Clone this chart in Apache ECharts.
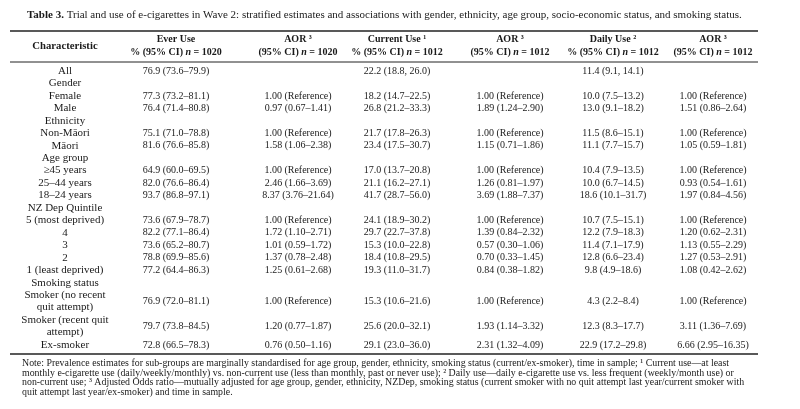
<!DOCTYPE html>
<html>
<head>
<meta charset="utf-8">
<script src="https://cdn.jsdelivr.net/npm/echarts@6/dist/echarts.min.js"></script>
<style>
    html, body { margin: 0; padding: 0; background: #fff; }
    #main { width: 800px; height: 409px; }
</style>
</head>
<body>
<div id="main"></div>
<script>
    // table text
    var titleBold = 'Table 3.';
    var titleText = 'Trial and use of e-cigarettes in Wave 2: stratified estimates and associations with gender, ethnicity, age group, socio-economic status, and smoking status.';

    var colTitles = ['Characteristic', 'Ever Use', 'AOR \u00b3', 'Current Use \u00b9', 'AOR \u00b3', 'Daily Use \u00b2', 'AOR \u00b3'];
    var colSubs = ['', '% (95% CI) n = 1020', '(95% CI) n = 1020', '% (95% CI) n = 1012', '(95% CI) n = 1012', '% (95% CI) n = 1012', '(95% CI) n = 1012'];

    var rowLabels = ['All', 'Gender', 'Female', 'Male', 'Ethnicity', 'Non-Māori', 'Māori', 'Age group',
        '≥45 years', '25–44 years', '18–24 years', 'NZ Dep Quintile', '5 (most deprived)', '4', '3', '2',
        '1 (least deprived)', 'Smoking status', 'Smoker (no recent\nquit attempt)', 'Smoker (recent quit\nattempt)', 'Ex-smoker'];

    var everUse = ['76.9 (73.6–79.9)', '', '77.3 (73.2–81.1)', '76.4 (71.4–80.8)', '', '75.1 (71.0–78.8)', '81.6 (76.6–85.8)', '',
        '64.9 (60.0–69.5)', '82.0 (76.6–86.4)', '93.7 (86.8–97.1)', '', '73.6 (67.9–78.7)', '82.2 (77.1–86.4)', '73.6 (65.2–80.7)',
        '78.8 (69.9–85.6)', '77.2 (64.4–86.3)', '', '76.9 (72.0–81.1)', '79.7 (73.8–84.5)', '72.8 (66.5–78.3)'];
    var everAor = ['', '', '1.00 (Reference)', '0.97 (0.67–1.41)', '', '1.00 (Reference)', '1.58 (1.06–2.38)', '',
        '1.00 (Reference)', '2.46 (1.66–3.69)', '8.37 (3.76–21.64)', '', '1.00 (Reference)', '1.72 (1.10–2.71)', '1.01 (0.59–1.72)',
        '1.37 (0.78–2.48)', '1.25 (0.61–2.68)', '', '1.00 (Reference)', '1.20 (0.77–1.87)', '0.76 (0.50–1.16)'];
    var currentUse = ['22.2 (18.8, 26.0)', '', '18.2 (14.7–22.5)', '26.8 (21.2–33.3)', '', '21.7 (17.8–26.3)', '23.4 (17.5–30.7)', '',
        '17.0 (13.7–20.8)', '21.1 (16.2–27.1)', '41.7 (28.7–56.0)', '', '24.1 (18.9–30.2)', '29.7 (22.7–37.8)', '15.3 (10.0–22.8)',
        '18.4 (10.8–29.5)', '19.3 (11.0–31.7)', '', '15.3 (10.6–21.6)', '25.6 (20.0–32.1)', '29.1 (23.0–36.0)'];
    var currentAor = ['', '', '1.00 (Reference)', '1.89 (1.24–2.90)', '', '1.00 (Reference)', '1.15 (0.71–1.86)', '',
        '1.00 (Reference)', '1.26 (0.81–1.97)', '3.69 (1.88–7.37)', '', '1.00 (Reference)', '1.39 (0.84–2.32)', '0.57 (0.30–1.06)',
        '0.70 (0.33–1.45)', '0.84 (0.38–1.82)', '', '1.00 (Reference)', '1.93 (1.14–3.32)', '2.31 (1.32–4.09)'];
    var dailyUse = ['11.4 (9.1, 14.1)', '', '10.0 (7.5–13.2)', '13.0 (9.1–18.2)', '', '11.5 (8.6–15.1)', '11.1 (7.7–15.7)', '',
        '10.4 (7.9–13.5)', '10.0 (6.7–14.5)', '18.6 (10.1–31.7)', '', '10.7 (7.5–15.1)', '12.2 (7.9–18.3)', '11.4 (7.1–17.9)',
        '12.8 (6.6–23.4)', '9.8 (4.9–18.6)', '', '4.3 (2.2–8.4)', '12.3 (8.3–17.7)', '22.9 (17.2–29.8)'];
    var dailyAor = ['', '', '1.00 (Reference)', '1.51 (0.86–2.64)', '', '1.00 (Reference)', '1.05 (0.59–1.81)', '',
        '1.00 (Reference)', '0.93 (0.54–1.61)', '1.97 (0.84–4.56)', '', '1.00 (Reference)', '1.20 (0.62–2.31)', '1.13 (0.55–2.29)',
        '1.27 (0.53–2.91)', '1.08 (0.42–2.62)', '', '1.00 (Reference)', '3.11 (1.36–7.69)', '6.66 (2.95–16.35)'];

    var noteLines = [
        'Note: Prevalence estimates for sub-groups are marginally standardised for age group, gender, ethnicity, smoking status (current/ex-smoker), time in sample; \u00b9 Current use\u2014at least',
        'monthly e-cigarette use (daily/weekly/monthly) vs. non-current use (less than monthly, past or never use); \u00b2 Daily use\u2014daily e-cigarette use vs. less frequent (weekly/month use) or',
        'non-current use; \u00b3 Adjusted Odds ratio\u2014mutually adjusted for age group, gender, ethnicity, NZDep, smoking status (current smoker with no quit attempt last year/current smoker with',
        'quit attempt last year/ex-smoker) and time in sample.'
    ];

    // layout
    var colCenter = [65, 176, 298, 397, 510, 613, 713];
    var lineGap = 12.45;
    var fontFamily = '"Liberation Serif", "DejaVu Serif", serif';
    var ink = '#1a1a1a';

    // build cells: [col, line position], text kept by index
    var columns = [rowLabels, everUse, everAor, currentUse, currentAor, dailyUse, dailyAor];
    var cells = [];
    var texts = [];
    var fonts = [];
    for (var c = 0; c < colTitles.length; c++) {
        if (colSubs[c]) {
            cells.push([c, -2.5]); texts.push(colTitles[c]); fonts.push('bold 10px ');
            cells.push([c, -1.5]); texts.push(colSubs[c].replace(' n = ', ' {i|n} = ')); fonts.push('bold 10px ');
        } else {
            cells.push([c, -2]); texts.push(colTitles[c]); fonts.push('bold 10.7px ');
        }
    }
    var line = 0;
    for (var r = 0; r < rowLabels.length; r++) {
        var n = rowLabels[r].split('\n').length;
        var pos = line + (n - 1) / 2;
        for (var k = 0; k < columns.length; k++) {
            if (columns[k][r]) {
                cells.push([k, pos]); texts.push(columns[k][r]); fonts.push(k === 0 ? '11px ' : '10px ');
            }
        }
        line += n;
    }

    var chart = echarts.init(document.getElementById('main'));

    var option = {
        animation: false,
        backgroundColor: '#fff',
        grid: { left: 0, right: 0, top: 71, height: lineGap * 22 },
        xAxis: { type: 'value', min: 0, max: 800, show: false },
        yAxis: { type: 'value', min: 0, max: 22, inverse: true, show: false },
        graphic: [
            {
                type: 'text', left: 27, top: 10,
                style: {
                    text: '{b|' + titleBold + '} ' + titleText,
                    font: '11px ' + fontFamily, fill: ink,
                    rich: { b: { fontWeight: 'bold', fontSize: 11, fontFamily: fontFamily } }
                }
            },
            { type: 'line', shape: { x1: 10, y1: 31, x2: 758, y2: 31 }, style: { stroke: '#222', lineWidth: 1.6 } },
            { type: 'line', shape: { x1: 10, y1: 62, x2: 758, y2: 62 }, style: { stroke: '#222', lineWidth: 1 } },
            { type: 'line', shape: { x1: 10, y1: 354, x2: 758, y2: 354 }, style: { stroke: '#222', lineWidth: 1.6 } },
            {
                type: 'text', left: 22, top: 358,
                style: {
                    text: noteLines.join('\n'),
                    font: '9.9px ' + fontFamily, fill: ink, lineHeight: 9.9
                }
            }
        ],
        series: [{
            type: 'custom',
            data: cells,
            renderItem: function (params, api) {
                var i = params.dataIndex;
                var c = api.value(0);
                var pt = api.coord([colCenter[c], api.value(1)]);
                return {
                    type: 'text',
                    x: pt[0], y: pt[1],
                    style: {
                        text: texts[i],
                        fill: ink,
                        font: fonts[i] + fontFamily,
                        align: 'center',
                        verticalAlign: 'middle',
                        lineHeight: lineGap,
                        rich: {
                            i: { fontStyle: 'italic', fontWeight: 'bold', fontSize: 10, fontFamily: fontFamily, fill: ink }
                        }
                    }
                };
            }
        }]
    };
    chart.setOption(option);
</script>
</body>
</html>
